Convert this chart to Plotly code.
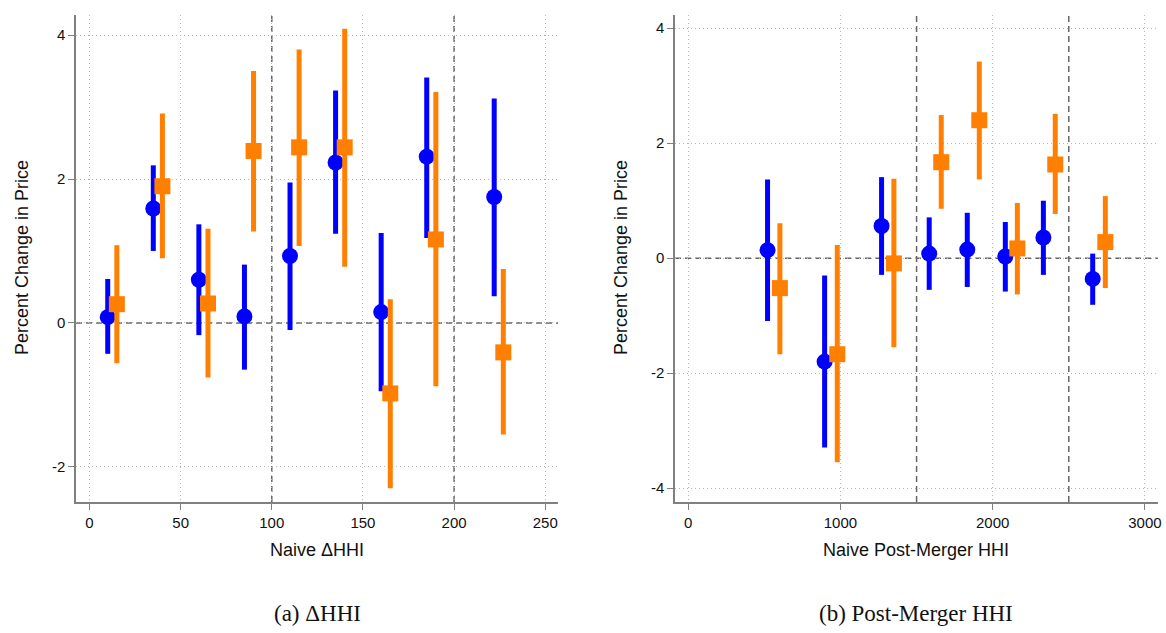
import plotly.graph_objects as go

# ---------------- Data ----------------
# Panel (a): Naive ΔHHI
a_blue_x = [10, 35, 60, 85, 110, 135, 160, 185, 222]
a_blue_y = [0.08, 1.59, 0.60, 0.09, 0.93, 2.23, 0.15, 2.31, 1.75]
a_blue_hi = [0.61, 2.19, 1.37, 0.81, 1.95, 3.23, 1.25, 3.41, 3.12]
a_blue_lo = [-0.43, 1.00, -0.17, -0.65, -0.10, 1.24, -0.95, 1.18, 0.37]

a_orng_x = [15, 40, 65, 90, 115, 140, 165, 190, 227]
a_orng_y = [0.26, 1.90, 0.27, 2.39, 2.44, 2.44, -0.98, 1.16, -0.41]
a_orng_hi = [1.08, 2.91, 1.31, 3.50, 3.80, 4.09, 0.33, 3.21, 0.75]
a_orng_lo = [-0.56, 0.90, -0.76, 1.27, 1.07, 0.78, -2.30, -0.88, -1.55]

# Panel (b): Naive Post-Merger HHI
b_blue_x = [521, 896, 1270, 1583, 1833, 2083, 2333, 2657]
b_blue_y = [0.14, -1.80, 0.56, 0.08, 0.15, 0.03, 0.36, -0.36]
b_blue_hi = [1.37, -0.30, 1.41, 0.71, 0.79, 0.63, 1.00, 0.08]
b_blue_lo = [-1.09, -3.29, -0.29, -0.55, -0.50, -0.58, -0.29, -0.81]

b_orng_x = [602, 979, 1351, 1662, 1912, 2162, 2411, 2740]
b_orng_y = [-0.52, -1.67, -0.09, 1.67, 2.40, 0.17, 1.63, 0.28]
b_orng_hi = [0.61, 0.23, 1.38, 2.49, 3.42, 0.96, 2.51, 1.08]
b_orng_lo = [-1.67, -3.55, -1.55, 0.86, 1.37, -0.63, 0.77, -0.52]

a_xticks = [0, 50, 100, 150, 200, 250]
a_yticks = [-2, 0, 2, 4]
a_ytext = ["-2", "0", "2", "4"]
b_xticks = [0, 1000, 2000, 3000]
b_yticks = [-4, -2, 0, 2, 4]
b_ytext = ["-4", "-2", "0", "2", "4"]
a_vlines = [100, 200]
b_vlines = [1500, 2500]

BLUE = "#0000FF"
ORANGE = "#FF7F00"
FONT = "Liberation Sans"

fig = go.Figure()


def add_series(x, y, hi, lo, color, symbol, size, xa, ya):
    fig.add_trace(go.Scatter(
        x=x, y=y, mode="markers",
        marker=dict(color=color, symbol=symbol, size=size, line=dict(width=0)),
        error_y=dict(type="data", symmetric=False,
                     array=[h - v for h, v in zip(hi, y)],
                     arrayminus=[v - l for v, l in zip(y, lo)],
                     color=color, thickness=5, width=0),
        xaxis=xa, yaxis=ya, showlegend=False, hoverinfo="skip"))


add_series(a_blue_x, a_blue_y, a_blue_hi, a_blue_lo, BLUE, "circle", 16, "x", "y")
add_series(a_orng_x, a_orng_y, a_orng_hi, a_orng_lo, ORANGE, "square", 16, "x", "y")
add_series(b_blue_x, b_blue_y, b_blue_hi, b_blue_lo, BLUE, "circle", 16, "x2", "y2")
add_series(b_orng_x, b_orng_y, b_orng_hi, b_orng_lo, ORANGE, "square", 16, "x2", "y2")

W, H = 1166, 633
ydom = [1 - 502 / H, 1 - 15 / H]

axis_common = dict(
    showline=True, linecolor="#808080", linewidth=1.5,
    ticks="outside", ticklen=6, tickcolor="#808080", tickwidth=1.2,
    showgrid=True, gridcolor="#b8b8b8", gridwidth=1, griddash="1px,3px",
    zeroline=False, tickfont=dict(family=FONT, size=15, color="#111"),
    automargin=False, mirror=False,
)

fig.update_layout(
    width=W, height=H,
    margin=dict(l=0, r=0, t=0, b=0),
    plot_bgcolor="white", paper_bgcolor="white",
    xaxis=dict(domain=[76 / W, 558 / W], range=[-7.4, 257], tickvals=a_xticks,
               anchor="y", **axis_common),
    yaxis=dict(domain=ydom, range=[-2.49, 4.28], tickvals=a_yticks, ticktext=a_ytext,
               anchor="x", **axis_common),
    xaxis2=dict(domain=[675 / W, 1158 / W], range=[-87, 3086], tickvals=b_xticks,
                anchor="y2", **axis_common),
    yaxis2=dict(domain=ydom, range=[-4.24, 4.23], tickvals=b_yticks, ticktext=b_ytext,
                anchor="x2", **axis_common),
)

shapes = []
dline = dict(color="#666", width=1.5, dash="6px,4px")
for v in a_vlines:
    shapes.append(dict(type="line", xref="x", yref="y domain", x0=v, x1=v, y0=0, y1=1,
                       line=dline, layer="below"))
for v in b_vlines:
    shapes.append(dict(type="line", xref="x2", yref="y2 domain", x0=v, x1=v, y0=0, y1=1,
                       line=dline, layer="below"))
shapes.append(dict(type="line", xref="x domain", yref="y", x0=0, x1=1, y0=0, y1=0,
                   line=dline, layer="below"))
shapes.append(dict(type="line", xref="x2 domain", yref="y2", x0=0, x1=1, y0=0, y1=0,
                   line=dline, layer="below"))
fig.update_layout(shapes=shapes)

ann = []
tfont = dict(family=FONT, size=18, color="#111")
ann.append(dict(text="Percent Change in Price", xref="paper", yref="paper",
                x=22 / W, y=1 - 258 / H, textangle=-90, showarrow=False, font=tfont,
                xanchor="center", yanchor="middle"))
ann.append(dict(text="Percent Change in Price", xref="paper", yref="paper",
                x=621 / W, y=1 - 258 / H, textangle=-90, showarrow=False, font=tfont,
                xanchor="center", yanchor="middle"))
ann.append(dict(text="Naive ΔHHI", xref="paper", yref="paper",
                x=317 / W, y=1 - 550 / H, showarrow=False, font=tfont,
                xanchor="center", yanchor="middle"))
ann.append(dict(text="Naive Post-Merger HHI", xref="paper", yref="paper",
                x=916 / W, y=1 - 550 / H, showarrow=False, font=tfont,
                xanchor="center", yanchor="middle"))
cfont = dict(family="Liberation Serif", size=23, color="#111")
ann.append(dict(text="(a) ΔHHI", xref="paper", yref="paper",
                x=317 / W, y=1 - 613 / H, showarrow=False, font=cfont,
                xanchor="center", yanchor="middle"))
ann.append(dict(text="(b) Post-Merger HHI", xref="paper", yref="paper",
                x=916 / W, y=1 - 613 / H, showarrow=False, font=cfont,
                xanchor="center", yanchor="middle"))
fig.update_layout(annotations=ann)

fig.write_html("out.html")
